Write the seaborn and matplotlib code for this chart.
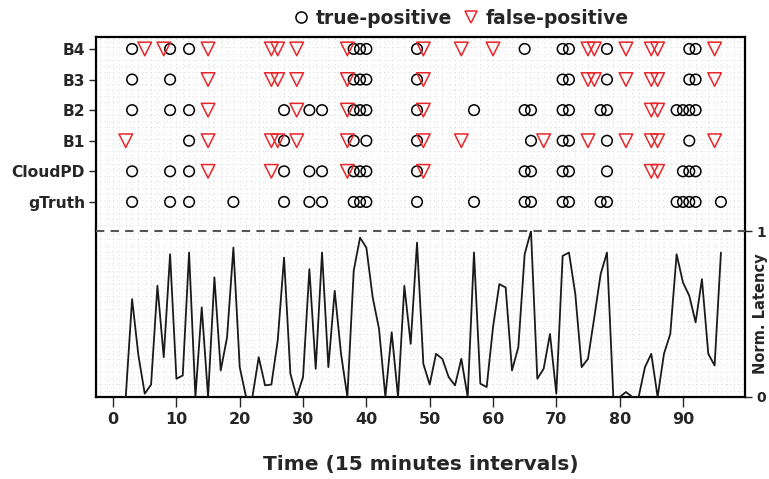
import numpy as np
import pandas as pd
import matplotlib
matplotlib.use("Agg")
import matplotlib.pyplot as plt
from matplotlib.lines import Line2D
import seaborn as sns

# ---------------- data ----------------
row_names = ["gTruth", "CloudPD", "B1", "B2", "B3", "B4"]

gtruth_tp = [3, 9, 12, 19, 27, 31, 33, 38, 39, 40, 48, 57, 65, 66, 71, 72, 77, 78, 89, 90, 91, 92, 96]
gtruth_fp = []
cloudpd_tp = [3, 9, 12, 27, 31, 33, 38, 39, 40, 48, 65, 66, 71, 72, 78, 90, 91, 92]
cloudpd_fp = [15, 25, 37, 49, 85, 86]
b1_tp = [12, 27, 38, 40, 48, 66, 71, 72, 78, 91]
b1_fp = [2, 15, 25, 26, 29, 37, 49, 55, 68, 75, 81, 85, 86, 95]
b2_tp = [3, 9, 12, 27, 31, 33, 38, 39, 40, 48, 57, 65, 66, 71, 72, 77, 78, 89, 90, 91, 92]
b2_fp = [15, 29, 37, 49, 85, 86]
b3_tp = [3, 9, 38, 39, 40, 48, 71, 72, 78, 91, 92]
b3_fp = [15, 25, 26, 29, 37, 49, 75, 76, 81, 85, 86, 95]
b4_tp = [3, 9, 12, 38, 39, 40, 48, 65, 71, 72, 78, 91, 92]
b4_fp = [5, 8, 15, 25, 26, 29, 37, 49, 55, 60, 75, 76, 81, 85, 86, 95]

latency_time = list(range(2, 97))
latency = [0.00, 0.59, 0.25, 0.02, 0.075, 0.67, 0.24, 0.86, 0.11, 0.13,      # 2-11
           0.87, 0.00, 0.54, 0.00, 0.72, 0.16, 0.36, 0.90, 0.18, 0.00,       # 12-21
           0.00, 0.24, 0.07, 0.075, 0.34, 0.84, 0.14, 0.00, 0.12, 0.77,      # 22-31
           0.17, 0.87, 0.18, 0.64, 0.26, 0.00, 0.76, 0.96, 0.90, 0.60,       # 32-41
           0.41, 0.00, 0.39, 0.00, 0.67, 0.32, 0.93, 0.20, 0.075, 0.26,      # 42-51
           0.23, 0.12, 0.07, 0.23, 0.00, 0.87, 0.08, 0.06, 0.42, 0.68,       # 52-61
           0.66, 0.16, 0.30, 0.86, 1.00, 0.11, 0.17, 0.38, 0.02, 0.85,       # 62-71
           0.87, 0.62, 0.18, 0.23, 0.48, 0.74, 0.87, 0.00, 0.00, 0.03,       # 72-81
           0.00, 0.00, 0.18, 0.26, 0.00, 0.26, 0.38, 0.86, 0.69, 0.61,       # 82-91
           0.45, 0.71, 0.26, 0.19, 0.87]                                     # 92-96

x_ticks = [0, 10, 20, 30, 40, 50, 60, 70, 80, 90]

# ---------------- tables ----------------
tp_lists = [gtruth_tp, cloudpd_tp, b1_tp, b2_tp, b3_tp, b4_tp]
fp_lists = [gtruth_fp, cloudpd_fp, b1_fp, b2_fp, b3_fp, b4_fp]
tp_rows, fp_rows = [], []
for i, (tp, fp) in enumerate(zip(tp_lists, fp_lists)):
    for t in tp:
        tp_rows.append({"time": t, "row": i + 1})
    for t in fp:
        fp_rows.append({"time": t, "row": i + 1})
tp_df = pd.DataFrame(tp_rows)
fp_df = pd.DataFrame(fp_rows)
lat_df = pd.DataFrame({"time": latency_time, "lat": latency})

# ---------------- figure ----------------
sns.set_style("white")
plt.rcParams["font.family"] = ["DejaVu Sans"]
plt.rcParams["font.weight"] = "bold"

W, H = 769, 479
fig = plt.figure(figsize=(W / 100, H / 100), dpi=100)
left, right = 96 / W, 745 / W
ax_top = fig.add_axes([left, (H - 231) / H, right - left, (231 - 37) / H])
ax_bot = fig.add_axes([left, (H - 397) / H, right - left, (397 - 231) / H])

xlim = (-2.7, 99.8)
grid_kw = dict(color="#cfcfcf", linestyle=(0, (1, 4)), linewidth=0.6, zorder=0)

# ---- top panel: markers ----
ax_top.set_xlim(*xlim)
ax_top.set_ylim(0.05, 6.39)
for t in np.arange(-2, 100, 1):
    ax_top.axvline(t, **grid_kw)
for yv in np.arange(0.05, 6.39, 0.2):
    ax_top.axhline(yv, **grid_kw)

sns.scatterplot(data=tp_df, x="time", y="row", marker="o", s=58,
                facecolors="none", edgecolor="black", linewidth=1.1,
                ax=ax_top, zorder=3, legend=False)
sns.scatterplot(data=fp_df, x="time", y="row", marker="v", s=95,
                facecolors="none", edgecolor="#e8262a", linewidth=1.1,
                ax=ax_top, zorder=4, legend=False)

ax_top.set_yticks(range(1, 7))
ax_top.set_yticklabels(row_names, fontsize=11.2, fontweight="bold")
ax_top.set_xticks([])
ax_top.set_xlabel("")
ax_top.set_ylabel("")
ax_top.tick_params(axis="y", direction="out", length=5, width=1, pad=3, left=True)
for s in ["top", "left", "right"]:
    ax_top.spines[s].set_linewidth(1.6)
    ax_top.spines[s].set_color("black")
ax_top.spines["bottom"].set_visible(False)

# ---- bottom panel: latency ----
ax_bot.set_xlim(*xlim)
ax_bot.set_ylim(0, 1)
for t in np.arange(-2, 100, 1):
    ax_bot.axvline(t, **grid_kw)
for yv in np.arange(0, 1, 0.038):
    ax_bot.axhline(yv, **grid_kw)

sns.lineplot(data=lat_df, x="time", y="lat", color="#1a1a1a", linewidth=1.3,
             ax=ax_bot, zorder=3)
ax_bot.axhline(1.0, color="#555555", linestyle=(0, (4, 3)), linewidth=1.5,
               zorder=5, clip_on=False)

ax_bot.set_xticks(x_ticks)
ax_bot.set_xticklabels([str(v) for v in x_ticks], fontsize=11.5, fontweight="bold")
ax_bot.tick_params(axis="x", direction="out", length=7, width=1, pad=4, bottom=True)
ax_bot.yaxis.tick_right()
ax_bot.set_yticks([0, 1])
ax_bot.set_yticklabels(["0", "1"], fontsize=10, fontweight="bold")
ax_bot.tick_params(axis="y", direction="out", length=5, width=1, pad=3, right=True)
ax_bot.set_ylabel("")
ax_bot.set_xlabel("Time (15 minutes intervals)", fontsize=14.5, fontweight="bold",
                  labelpad=20)
for s in ["bottom", "left", "right"]:
    ax_bot.spines[s].set_linewidth(1.6)
    ax_bot.spines[s].set_color("black")
ax_bot.spines["top"].set_visible(False)

ax_bot.text(1 + 15 / 649, 0.5, "Norm. Latency", rotation=90, transform=ax_bot.transAxes,
            ha="center", va="center", fontsize=10.5, fontweight="bold")

# ---- legend ----
handles = [
    Line2D([], [], marker="o", linestyle="none", markerfacecolor="none",
           markeredgecolor="black", markersize=8, markeredgewidth=1.1),
    Line2D([], [], marker="v", linestyle="none", markerfacecolor="none",
           markeredgecolor="#e8262a", markersize=9, markeredgewidth=1.1),
]
fig.legend(handles, ["true-positive", "false-positive"], loc="center",
           bbox_to_anchor=(460 / W, 1 - 18 / H), ncol=2, frameon=False,
           prop={"size": 13.5, "weight": "bold"}, handletextpad=0.3,
           columnspacing=0.5, handlelength=1.0)

fig.savefig("out.png", dpi=100)
